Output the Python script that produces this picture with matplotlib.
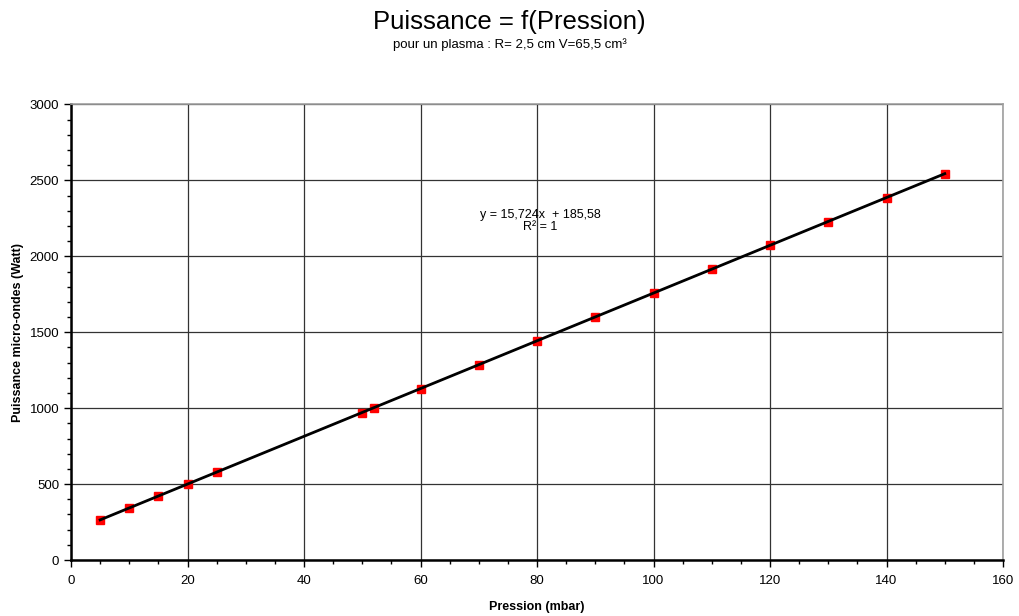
import matplotlib
matplotlib.use("Agg")
import matplotlib.pyplot as plt
from matplotlib.ticker import MultipleLocator
import numpy as np

plt.rcParams['font.family'] = ['Liberation Sans', 'DejaVu Sans']

pression = [5, 10, 15, 20, 25, 50, 52, 60, 70, 80, 90, 100, 110, 120, 130, 140, 150]
puissance = [262, 341, 420, 500, 578, 971, 1001, 1129, 1286, 1443, 1600, 1758, 1915, 2072, 2229, 2387, 2544]
slope = 15.724
intercept = 185.58

fig = plt.figure(figsize=(10.19, 6.16), dpi=100)
ax = fig.add_axes([0.0697, 0.0909, 0.9146, 0.7395])

ax.set_xlim(0, 160)
ax.set_ylim(0, 3000)
ax.xaxis.set_major_locator(MultipleLocator(20))
ax.xaxis.set_minor_locator(MultipleLocator(5))
ax.yaxis.set_major_locator(MultipleLocator(500))
ax.yaxis.set_minor_locator(MultipleLocator(100))
ax.grid(True, which='major', color='#333333', linewidth=0.9)
ax.set_axisbelow(True)

for s in ['top', 'right']:
    ax.spines[s].set_color('#a0a0a0')
    ax.spines[s].set_linewidth(1.2)
for s in ['left', 'bottom']:
    ax.spines[s].set_color('black')
    ax.spines[s].set_linewidth(1.8)

ax.tick_params(which='major', direction='out', length=5, width=1, labelsize=9.5, colors='black')
ax.tick_params(which='minor', direction='out', length=3, width=1)
ax.tick_params(axis='x', pad=6)

ax.plot(pression, puissance, linestyle='none', marker='s', markersize=6,
        color='#ff0000', zorder=3)
xs = np.array([min(pression), max(pression)])
ax.plot(xs, slope * xs + intercept, color='black', linewidth=2, zorder=4)

ax.text(80.5, 2230, "y = 15,724x  + 185,58\nR² = 1", ha='center', va='center',
        fontsize=9, linespacing=1.0)

ax.set_xlabel("Pression (mbar)", fontsize=9, fontweight='bold', labelpad=10)
ax.set_ylabel("Puissance micro-ondes (Watt)", fontsize=9, fontweight='bold', labelpad=4)

fig.text(0.5, 0.965, "Puissance = f(Pression)", ha='center', va='center', fontsize=18.5)
fig.text(0.5, 0.927, "pour un plasma : R= 2,5 cm V=65,5 cm³", ha='center', va='center', fontsize=9.5)

fig.savefig("out.png", dpi=100)
